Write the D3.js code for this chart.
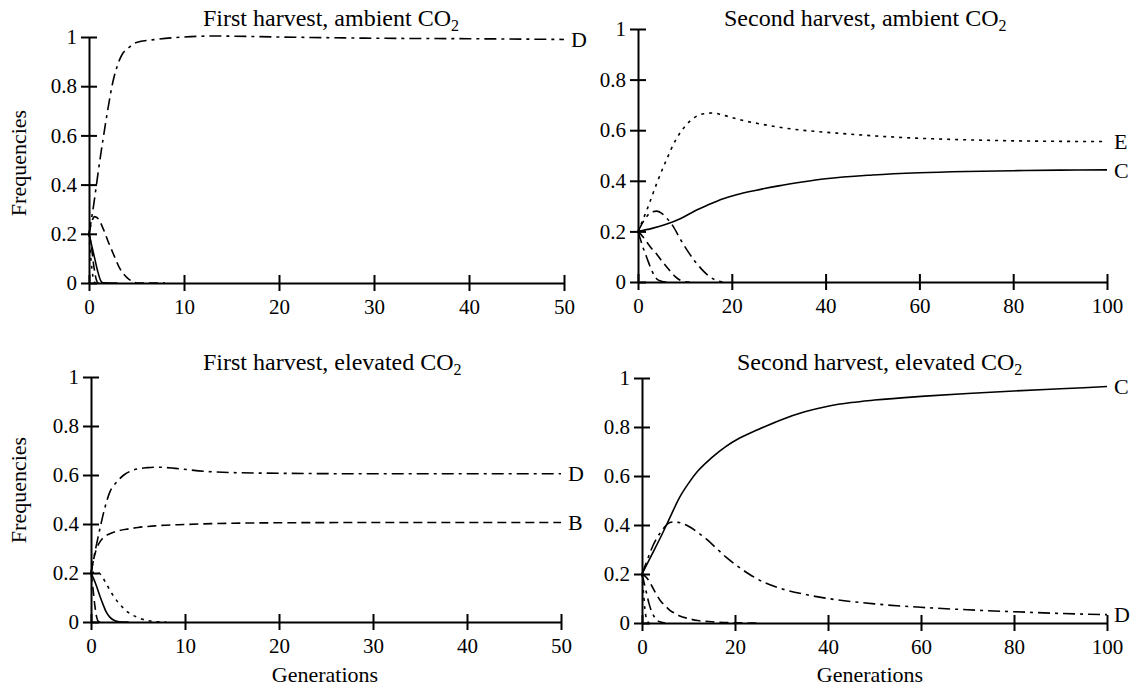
<!DOCTYPE html>
<html>
<head>
<script src="https://cdn.jsdelivr.net/npm/d3@7"></script>
<style>
  body { margin: 0; background: #fff; }
</style>
</head>
<body>
<svg id="chart" width="1134" height="686" style="font-family: 'Liberation Serif', 'DejaVu Serif', serif;"></svg>
<script>
// tick values
const yTicks = [0, 0.2, 0.4, 0.6, 0.8, 1];
const xTicksFirst = [0, 10, 20, 30, 40, 50];
const xTicksSecond = [0, 20, 40, 60, 80, 100];

// First harvest, ambient CO2  ([generation, frequency])
const firstAmbD = [[0,0.2],[0.5,0.32],[1,0.46],[1.5,0.59],[2,0.71],[2.5,0.815],[3,0.885],[3.5,0.93],[4,0.95],[5,0.978],[7,0.99],[10,1.0],[13,1.004],[20,1.0],[30,0.995],[40,0.993],[50,0.99]];
const firstAmbDash = [[0,0.2],[0.3,0.25],[0.6,0.27],[1,0.26],[1.5,0.22],[2,0.17],[2.6,0.115],[3.3,0.055],[4,0.022],[4.5,0.008],[5.2,0],[8,0]];
const firstAmbSolid = [[0,0.2],[0.3,0.15],[0.6,0.1],[0.9,0.05],[1.3,0.005],[1.6,0],[3,0]];
const firstAmbDot = [[0,0.2],[0.15,0.12],[0.3,0.06],[0.5,0.01],[0.7,0],[2,0]];
const firstAmbDash2 = [[0,0.2],[0.25,0.15],[0.5,0.07],[0.8,0.01],[1,0],[2,0]];

// Second harvest, ambient CO2
const secondAmbE = [[0,0.2],[2,0.29],[4,0.39],[6,0.48],[8,0.56],[10,0.615],[12,0.65],[14,0.665],[16,0.668],[18,0.66],[22,0.64],[26,0.625],[30,0.612],[35,0.6],[40,0.592],[50,0.578],[60,0.568],[70,0.562],[80,0.558],[90,0.556],[100,0.555]];
const secondAmbC = [[0,0.2],[3,0.212],[6,0.228],[9,0.25],[12,0.28],[15,0.305],[18,0.328],[21,0.345],[25,0.362],[30,0.38],[35,0.395],[40,0.408],[50,0.423],[60,0.432],[70,0.437],[80,0.44],[90,0.442],[100,0.443]];
const secondAmbPeak = [[0,0.2],[1,0.235],[2,0.262],[3,0.277],[4,0.28],[5,0.272],[6,0.255],[7.5,0.22],[9,0.17],[10.5,0.125],[12,0.085],[13.5,0.052],[15,0.025],[16.5,0.008],[18,0]];
const secondAmbDash = [[0,0.2],[1,0.18],[2,0.155],[3,0.13],[4,0.11],[5,0.085],[6,0.062],[7,0.04],[8,0.02],[9,0.007],[10,0.001],[11,0]];
const secondAmbFast = [[0,0.2],[0.5,0.17],[1,0.14],[1.5,0.115],[2,0.09],[2.5,0.065],[3,0.043],[3.5,0.025],[4,0.012],[5,0.003],[6,0]];

// First harvest, elevated CO2
const firstElevD = [[0,0.2],[0.5,0.3],[1,0.39],[1.5,0.47],[2,0.53],[2.7,0.57],[3.5,0.6],[4.5,0.62],[6,0.63],[7,0.632],[9,0.627],[12,0.615],[15,0.61],[20,0.607],[30,0.605],[40,0.605],[50,0.605]];
const firstElevB = [[0,0.2],[0.3,0.26],[0.6,0.3],[1,0.33],[1.5,0.35],[2,0.36],[3,0.373],[4,0.38],[5,0.386],[7,0.393],[10,0.398],[15,0.403],[20,0.405],[30,0.406],[40,0.406],[50,0.406]];
const firstElevDot = [[0,0.2],[0.5,0.205],[1,0.195],[1.5,0.165],[2,0.13],[2.5,0.1],[3,0.075],[3.5,0.055],[4,0.038],[5,0.018],[6,0.006],[7,0.001],[8,0]];
const firstElevSolid = [[0,0.2],[0.3,0.175],[0.6,0.145],[1,0.1],[1.3,0.07],[1.6,0.042],[2,0.02],[2.5,0.006],[3,0.001],[4,0]];
const firstElevDash = [[0,0.2],[0.2,0.14],[0.4,0.07],[0.6,0.02],[0.8,0.002],[1,0]];

// Second harvest, elevated CO2
const secondElevC = [[0,0.2],[2,0.275],[4,0.35],[6,0.43],[8,0.51],[10,0.57],[12,0.62],[15,0.675],[18,0.72],[21,0.755],[25,0.79],[30,0.83],[35,0.862],[40,0.885],[45,0.9],[50,0.91],[60,0.925],[70,0.937],[80,0.947],[90,0.956],[100,0.965]];
const secondElevD = [[0,0.2],[1,0.25],[2,0.3],[3,0.34],[4,0.37],[5,0.395],[6,0.41],[7,0.413],[8,0.41],[10,0.395],[12,0.37],[14,0.34],[16,0.305],[18,0.27],[20,0.24],[23,0.2],[26,0.168],[30,0.14],[35,0.117],[40,0.1],[50,0.078],[60,0.064],[70,0.054],[80,0.046],[90,0.039],[100,0.034]];
const secondElevDash = [[0,0.2],[1,0.185],[2,0.155],[3,0.12],[4,0.09],[5,0.07],[6,0.052],[7,0.04],[8,0.03],[10,0.018],[12,0.01],[15,0.005],[20,0.001],[25,0]];
const secondElevFast = [[0,0.2],[0.5,0.16],[1,0.12],[1.5,0.08],[2,0.05],[2.5,0.03],[3,0.015],[4,0.004],[5,0]];
const secondElevDot = [[0,0.2],[0.3,0.13],[0.6,0.06],[1,0.015],[1.5,0]];

const dashes = { solid: null, dashed: "9,5", dotted: "3,5", dashdot: "12,5,3,5" };
const serif = "'Liberation Serif', 'DejaVu Serif', serif";

const panels = [
  { title: "First harvest, ambient CO", tx: 203, ty: 26, xMax: 50, xTicks: xTicksFirst,
    left: 89, right: 564, top: 37, bottom: 283, yLab: 163, xLab: null,
    series: [
      { data: firstAmbDot, style: "dotted" },
      { data: firstAmbDash2, style: "dashed" },
      { data: firstAmbSolid, style: "solid" },
      { data: firstAmbDash, style: "dashed" },
      { data: firstAmbD, style: "dashdot", label: "D" }
    ] },
  { title: "Second harvest, ambient CO", tx: 724, ty: 26, xMax: 100, xTicks: xTicksSecond,
    left: 638, right: 1107, top: 29, bottom: 282, yLab: null, xLab: null,
    series: [
      { data: secondAmbFast, style: "dashdot" },
      { data: secondAmbDash, style: "dashed" },
      { data: secondAmbPeak, style: "dashdot" },
      { data: secondAmbC, style: "solid", label: "C" },
      { data: secondAmbE, style: "dotted", label: "E" }
    ] },
  { title: "First harvest, elevated CO", tx: 203, ty: 370, xMax: 50, xTicks: xTicksFirst,
    left: 91, right: 561, top: 377, bottom: 622, yLab: 490, xLab: 325,
    series: [
      { data: firstElevDash, style: "dashed" },
      { data: firstElevSolid, style: "solid" },
      { data: firstElevDot, style: "dotted" },
      { data: firstElevB, style: "dashed", label: "B" },
      { data: firstElevD, style: "dashdot", label: "D" }
    ] },
  { title: "Second harvest, elevated CO", tx: 737, ty: 370, xMax: 100, xTicks: xTicksSecond,
    left: 642, right: 1107, top: 378, bottom: 623, yLab: null, xLab: 870,
    series: [
      { data: secondElevDot, style: "dotted" },
      { data: secondElevFast, style: "dashdot" },
      { data: secondElevDash, style: "dashed" },
      { data: secondElevD, style: "dashdot", label: "D" },
      { data: secondElevC, style: "solid", label: "C" }
    ] }
];

const svg = d3.select("#chart");

panels.forEach(p => {
  const g = svg.append("g");
  const x = d3.scaleLinear([0, p.xMax], [p.left, p.right]);
  const y = d3.scaleLinear([0, 1], [p.bottom, p.top]);
  const line = d3.line().x(d => x(d[0])).y(d => y(d[1])).curve(d3.curveMonotoneX);

  p.series.forEach(s => {
    g.append("path")
      .attr("d", line(s.data))
      .attr("fill", "none")
      .attr("stroke", "#000")
      .attr("stroke-width", 1.6)
      .attr("stroke-dasharray", dashes[s.style]);
    if (s.label) {
      const last = s.data[s.data.length - 1];
      g.append("text")
        .attr("x", x(last[0]) + 7)
        .attr("y", y(last[1]))
        .attr("dy", "0.35em")
        .style("font-family", serif)
        .style("font-size", "22px")
        .text(s.label);
    }
  });

  const ya = g.append("g")
    .attr("transform", "translate(" + p.left + ",0)")
    .call(d3.axisLeft(y).tickValues(yTicks).tickFormat(d => String(d))
      .tickSize(8).tickSizeOuter(0).tickPadding(4));
  const xa = g.append("g")
    .attr("transform", "translate(0," + p.bottom + ")")
    .call(d3.axisBottom(x).tickValues(p.xTicks).tickFormat(d => String(d))
      .tickSize(8).tickSizeOuter(0).tickPadding(8));

  ya.selectAll(".tick line").attr("x1", 8);
  xa.selectAll(".tick line").attr("y1", -8);
  [ya, xa].forEach(a => {
    a.attr("font-family", serif).attr("font-size", 21);
    a.selectAll("path, line").attr("stroke", "#000").attr("stroke-width", 2);
    a.selectAll("text").attr("fill", "#000").style("font-family", serif).style("font-size", "21px");
  });

  const t = g.append("text")
    .attr("x", p.tx).attr("y", p.ty)
    .style("font-family", serif)
    .style("font-size", "24px")
    .text(p.title);
  t.append("tspan").attr("dy", 5).style("font-size", "16px").text("2");

  if (p.yLab) {
    g.append("text")
      .attr("transform", "translate(26," + p.yLab + ") rotate(-90)")
      .attr("text-anchor", "middle")
      .style("font-family", serif)
      .style("font-size", "22px")
      .text("Frequencies");
  }
  if (p.xLab) {
    g.append("text")
      .attr("x", p.xLab).attr("y", 682)
      .attr("text-anchor", "middle")
      .style("font-family", serif)
      .style("font-size", "22px")
      .text("Generations");
  }
});
</script>
</body>
</html>
